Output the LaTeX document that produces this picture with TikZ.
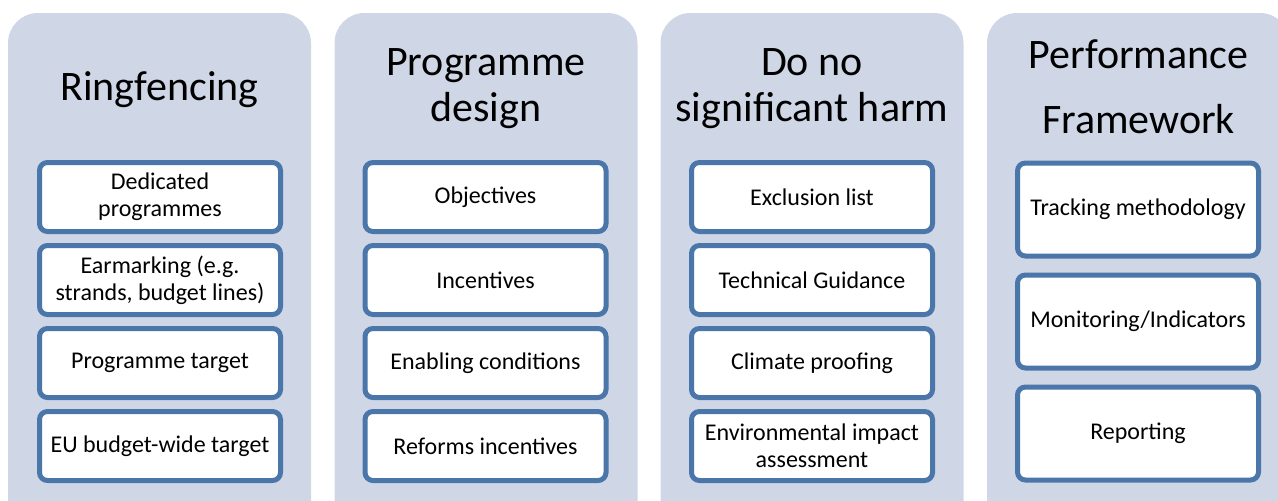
\documentclass[tikz,border=0pt]{standalone}
\usepackage{fontspec}
\setmainfont{Carlito}
\usepackage{xcolor}
\usepackage{tikz}
\usetikzlibrary{positioning}

\definecolor{panelgray}{RGB}{207,215,231}
\definecolor{boxblue}{RGB}{74,118,170}

\begin{document}
\begin{tikzpicture}[x=1pt, y=-1pt]

        \def\d{14pt}
        \def\dd{19pt}

        % Styles of the four columns and of the boxes stacked in them
        \tikzset{
            panel/.style={fill=panelgray, rounded corners=30pt, minimum width=303pt,
                minimum height=560pt, anchor=north, inner sep=0pt, outer sep=0pt},
            heading/.style={font=\fontsize{42}{46}\selectfont, align=center, text=black},
            item/.style={draw=boxblue, line width=5pt, fill=white, rounded corners=8pt,
                minimum width=241pt, minimum height=69pt, inner sep=2pt, outer sep=0pt,
                align=center, text=black, font=\fontsize{24}{27}\selectfont},
            tallitem/.style={item, minimum height=93pt}
        }

        \useasboundingbox (0,0) rectangle (1278,501);
        \clip (0,0) rectangle (1278,501);

        % Columns, they run past the lower edge
        \node (RP) [panel] at (159.5, 13) {};
        \node (PP) [panel] at (486, 13) {};
        \node (DP) [panel] at (812, 13) {};
        \node (FP) [panel] at (1138.5, 13) {};

        % Headings
        \node (R0) [heading] at (159.5, 90) {Ringfencing};
        \node (P0) [heading] at (486, 89) {Programme\\design};
        \node (D0) [heading] at (812, 89) {Do no\\significant harm};
        \node (F0) [heading] at (1138.5, 87) {Performance\\[19pt]Framework};

        % Ringfencing
        \node (R1) [item] at (160, 197) {Dedicated\\programmes};
        \node (R2) [item, below=\d of R1] {Earmarking (e.g.\\strands, budget lines)};
        \node (R3) [item, below=\d of R2] {Programme target};
        \node (R4) [item, below=\d of R3] {EU budget-wide target};

        % Programme design
        \node (P1) [item] at (485.5, 197) {Objectives};
        \node (P2) [item, below=\d of P1] {Incentives};
        \node (P3) [item, below=\d of P2] {Enabling conditions};
        \node (P4) [item, below=\d of P3] {Reforms incentives};

        % Do no significant harm
        \node (D1) [item] at (812, 197) {Exclusion list};
        \node (D2) [item, below=\d of D1] {Technical Guidance};
        \node (D3) [item, below=\d of D2] {Climate proofing};
        \node (D4) [item, below=\d of D3] {Environmental impact\\assessment};

        % Performance Framework
        \node (F1) [tallitem] at (1138, 209.5) {Tracking methodology};
        \node (F2) [tallitem, below=\dd of F1] {Monitoring/Indicators};
        \node (F3) [tallitem, below=\dd of F2] {Reporting};

\end{tikzpicture}
\end{document}
